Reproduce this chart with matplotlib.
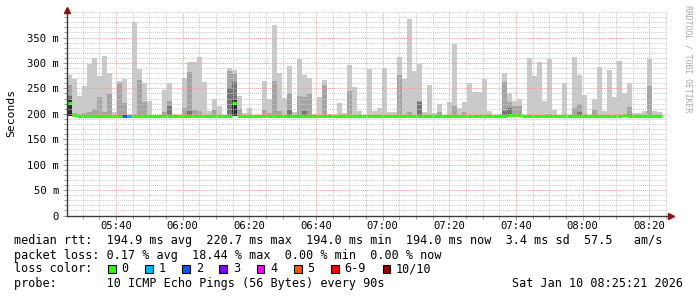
import matplotlib
matplotlib.use("Agg")
import matplotlib.pyplot as plt
from matplotlib.patches import Rectangle
from matplotlib.ticker import MultipleLocator, FuncFormatter
import numpy as np

# ---------------- data ----------------
window_start = "05:25:21"
window_hours = 3
step_seconds = 90

# smoke levels per 90 s step (ms); 0 = no visible smoke at that level
smoke_max = [276, 268, 235, 255, 298, 310, 274, 314, 281, 203,
             264, 268, 0, 381, 289, 261, 225, 0, 0, 247,
             261, 199, 0, 271, 302, 302, 312, 262, 205, 230,
             215, 0, 291, 287, 235, 202, 212, 0, 0, 264,
             230, 374, 280, 232, 294, 203, 307, 276, 270, 199,
             233, 266, 199, 0, 221, 202, 296, 253, 205, 0,
             289, 205, 211, 291, 204, 204, 312, 269, 387, 284,
             297, 204, 257, 202, 220, 0, 224, 338, 211, 224,
             261, 243, 243, 268, 205, 0, 199, 281, 240, 226,
             230, 0, 310, 274, 302, 225, 307, 207, 0, 261,
             0, 312, 276, 237, 0, 230, 292, 205, 286, 233,
             304, 240, 261, 202, 202, 205, 307, 205, 204, 0]

smoke_mid = [257, 202, 0, 202, 203, 210, 233, 203, 238, 0,
             261, 222, 0, 0, 266, 223, 0, 0, 0, 204,
             225, 0, 0, 211, 282, 207, 205, 0, 0, 207,
             0, 0, 284, 278, 210, 0, 0, 0, 0, 207,
             201, 264, 205, 0, 241, 0, 235, 233, 238, 0,
             0, 257, 0, 0, 0, 0, 245, 0, 0, 0,
             0, 0, 0, 0, 0, 0, 276, 0, 203, 0,
             225, 0, 0, 0, 204, 0, 0, 215, 0, 203,
             0, 0, 0, 0, 200, 0, 0, 262, 224, 215,
             215, 0, 0, 0, 0, 0, 200, 0, 0, 0,
             0, 212, 220, 200, 0, 208, 0, 0, 0, 0,
             0, 0, 213, 0, 0, 0, 255, 0, 0, 0]

smoke_dark = [235, 0, 0, 0, 0, 0, 0, 0, 0, 0,
              0, 0, 0, 0, 0, 0, 0, 0, 0, 0,
              215, 0, 0, 0, 205, 0, 0, 0, 0, 0,
              0, 0, 250, 262, 0, 0, 0, 0, 0, 0,
              0, 0, 0, 0, 207, 0, 0, 205, 0, 0,
              0, 0, 0, 0, 0, 0, 0, 0, 0, 0,
              0, 0, 0, 0, 0, 0, 0, 0, 0, 0,
              223, 0, 0, 0, 0, 0, 0, 0, 0, 0,
              0, 0, 0, 0, 0, 0, 0, 205, 212, 0,
              0, 0, 0, 0, 0, 0, 0, 0, 0, 0,
              0, 0, 204, 0, 0, 0, 0, 0, 0, 0,
              0, 0, 199, 0, 0, 0, 0, 0, 0, 0]

smoke_core = [227, 0, 0, 0, 0, 0, 0, 0, 0, 0,
              0, 0, 0, 0, 0, 0, 0, 0, 0, 0,
              0, 0, 0, 0, 0, 0, 0, 0, 0, 0,
              0, 0, 0, 227, 0, 0, 0, 0, 0, 0,
              0, 0, 0, 0, 0, 0, 0, 0, 0, 0,
              0, 0, 0, 0, 0, 0, 0, 0, 0, 0,
              0, 0, 0, 0, 0, 0, 0, 0, 0, 0,
              0, 0, 0, 0, 0, 0, 0, 0, 0, 0,
              0, 0, 0, 0, 0, 0, 0, 0, 0, 0,
              0, 0, 0, 0, 0, 0, 0, 0, 0, 0,
              0, 0, 0, 0, 0, 0, 0, 0, 0, 0,
              0, 0, 0, 0, 0, 0, 0, 0, 0, 0]

median_ms = [222, 198, 196, 196, 196, 196, 196, 196, 196, 196,
             196, 196, 196, 196, 196, 196, 196, 196, 196, 196,
             196, 196, 196, 196, 196, 196, 196, 196, 196, 196,
             196, 196, 196, 222, 196, 196, 196, 196, 196, 196,
             196, 196, 196, 196, 196, 196, 196, 196, 196, 196,
             196, 196, 196, 196, 196, 196, 196, 196, 196, 196,
             196, 196, 196, 196, 196, 196, 196, 196, 196, 196,
             196, 196, 196, 196, 196, 196, 196, 196, 196, 196,
             196, 196, 196, 196, 196, 196, 196, 196, 198, 198,
             198, 196, 196, 196, 196, 196, 196, 196, 196, 196,
             196, 196, 196, 196, 196, 196, 196, 196, 196, 196,
             196, 198, 196, 196, 196, 196, 196, 196, 196, np.nan]

loss_count = [0] * 11 + [2, 1] + [0] * 107

smoke_min_ms = 195.0

loss_labels = ["0", "1", "2", "3", "4", "5", "6-9", "10/10"]
loss_colors = ["#26ff00", "#00b8ff", "#0059ff", "#7e00ff",
               "#ff00ff", "#ff5500", "#ff0000", "#a10000"]

x_tick_labels = ["05:40", "06:00", "06:20", "06:40", "07:00",
                 "07:20", "07:40", "08:00", "08:20"]
y_ticks_ms = [0, 50, 100, 150, 200, 250, 300, 350]

legend_rtt = "median rtt:  194.9 ms avg  220.7 ms max  194.0 ms min  194.0 ms now  3.4 ms sd  57.5   am/s"
legend_loss = "packet loss: 0.17 % avg  18.44 % max  0.00 % min  0.00 % now"
legend_probe = "probe:       10 ICMP Echo Pings (56 Bytes) every 90s"
stamp = "Sat Jan 10 08:25:21 2026"

# ---------------- figure ----------------
W, H = 697, 297
MONO = "DejaVu Sans Mono"
fig = plt.figure(figsize=(W / 100, H / 100), dpi=100)
fig.patch.set_facecolor("white")


def fx(px):
    return px / W


def fy(py):
    return 1 - py / H


ax = fig.add_axes([fx(67), fy(215.5), 600 / W, 203.4 / H])

hh, mm, ss = [int(v) for v in window_start.split(":")]
t0 = hh * 60 + mm + ss / 60.0
step_min = step_seconds / 60.0
n = len(smoke_max)
x = t0 + step_min * np.arange(n)

med = np.array(median_ms, dtype=float)


def level(vals):
    v = np.array(vals, dtype=float)
    h = np.where(v > 0, v - smoke_min_ms, 0.0)
    return h


layers = [(smoke_max, "#cacaca"), (smoke_mid, "#a4a4a4"),
          (smoke_dark, "#767676"), (smoke_core, "#2e2e2e")]
for vals, col in layers:
    ax.bar(x, level(vals), bottom=smoke_min_ms, width=step_min, align="edge",
           color=col, linewidth=0, zorder=1)


def loss_index(c):
    if c <= 5:
        return c
    if c < 10:
        return 6
    return 7


med_cols = [loss_colors[loss_index(c)] for c in loss_count]
ax.hlines(med, x, x + step_min, colors=med_cols, linewidth=2.2, zorder=2,
          capstyle="butt")

ax.set_xlim(t0, t0 + window_hours * 60)
ax.set_ylim(0, 400)

# grid
ax.xaxis.set_major_locator(MultipleLocator(20))
ax.xaxis.set_minor_locator(MultipleLocator(5))
ax.yaxis.set_major_locator(MultipleLocator(50))
ax.yaxis.set_minor_locator(MultipleLocator(10))
ax.set_axisbelow(False)
ax.grid(which="minor", color="#c8c8c8", linestyle=(0, (1, 1)), linewidth=0.7)
ax.grid(which="major", color="#e8a0a0", linestyle=(0, (1, 1)), linewidth=0.7)


def xfmt(v, pos):
    lab = "%02d:%02d" % (int(round(v)) // 60, int(round(v)) % 60)
    return lab if lab in x_tick_labels else ""


def yfmt(v, pos):
    if v == 0:
        return "0"
    return "%d m" % int(round(v))


ax.xaxis.set_major_formatter(FuncFormatter(xfmt))
ax.yaxis.set_major_formatter(FuncFormatter(yfmt))
ax.set_yticks(y_ticks_ms)
ax.yaxis.set_minor_locator(MultipleLocator(10))
ax.tick_params(which="both", direction="out", color="#9a9a9a", width=0.7)
ax.tick_params(which="major", length=3)
ax.tick_params(which="minor", length=2)
ax.tick_params(axis="x", labelsize=7.6, pad=1.2)
ax.tick_params(axis="y", labelsize=7.6, pad=2.6)
for lab in ax.get_xticklabels() + ax.get_yticklabels():
    lab.set_family(MONO)

for side in ("top", "right"):
    ax.spines[side].set_visible(False)
for side in ("left", "bottom"):
    ax.spines[side].set_color("#3a3a3a")
    ax.spines[side].set_linewidth(1.0)
    ax.spines[side].set_zorder(3)

# arrows
ax.plot([0], [1 + 1.8 / 203.4], marker="^", markersize=4.5, color="#8b1010",
        transform=ax.transAxes, clip_on=False, zorder=4)
ax.plot([1 + 4 / 600], [0], marker=">", markersize=4.5, color="#8b1010",
        transform=ax.transAxes, clip_on=False, zorder=4)

# y label
fig.text(fx(11), fy(113), "Seconds", rotation=90, ha="center", va="center",
         fontsize=8.2, family=MONO)

# side watermark
fig.text(fx(688), fy(59), "RRDTOOL / TOBI OETIKER", rotation=270,
         ha="center", va="center", fontsize=5.9, family=MONO, color="#a8a8a8")

# legend lines
fs = 8.5
fig.text(fx(14.5), fy(240.7), legend_rtt, ha="left", va="center",
         fontsize=fs, family=MONO)
fig.text(fx(14.5), fy(255.0), legend_loss, ha="left", va="center",
         fontsize=fs, family=MONO)
fig.text(fx(14.5), fy(269.0), "loss color:", ha="left", va="center",
         fontsize=fs, family=MONO)
fig.text(fx(14.5), fy(283.3), legend_probe, ha="left", va="center",
         fontsize=fs, family=MONO)
fig.text(fx(683), fy(283.3), stamp, ha="right", va="center",
         fontsize=fs, family=MONO)

box_left_px = [108.3, 145.0, 182.3, 219.3, 256.7, 294.0, 331.0, 382.7]
label_left_px = [121.7, 159.0, 196.3, 233.3, 270.0, 307.3, 344.0, 395.7]
for bx, lx, col, lab in zip(box_left_px, label_left_px, loss_colors, loss_labels):
    fig.patches.append(Rectangle((fx(bx), fy(273.0)), 7.6 / W, 7.6 / H,
                                 transform=fig.transFigure, facecolor=col,
                                 edgecolor="black", linewidth=0.8))
    fig.text(fx(lx), fy(269.0), lab, ha="left", va="center",
             fontsize=fs, family=MONO)

fig.savefig("out.png", dpi=100, facecolor="white")
